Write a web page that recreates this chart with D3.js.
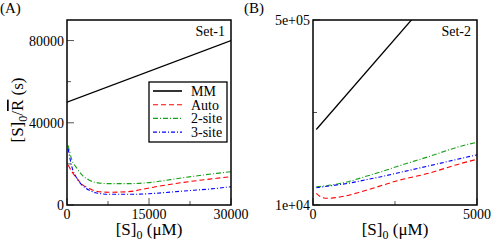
<!DOCTYPE html>
<html>
<head>
<meta charset="utf-8">
<script src="https://cdn.jsdelivr.net/npm/d3@7"></script>
<style>
  html, body { margin: 0; padding: 0; background: #fff; }
  svg text { font-family: "Liberation Serif", "DejaVu Serif", serif; fill: #000; }
</style>
</head>
<body>
<svg id="chart" width="491" height="243"></svg>
<script>
// Panel A (Set-1)
const xA = [200, 900, 1800, 2750, 4000, 5200, 7600, 11300, 15000, 21300, 27400, 30000];
const autoA = [19500, 16200, 13000, 10100, 8100, 6800, 6200, 6500, 8300, 11000, 13000, 13800];
const twoSiteA = [29000, 21900, 17900, 14600, 12200, 11000, 10400, 10400, 10900, 13300, 15400, 16200];
const threeSiteA = [27400, 18500, 13000, 9700, 7300, 6000, 5200, 5200, 5500, 6800, 8100, 8900];
const mmXA = [0, 30000];
const mmA = [50000, 80000];

// Panel B (Set-2)
const xB = [100, 560, 1070, 1580, 2080, 2540, 3520, 4530, 5000];
const twoSiteB = [58500, 63000, 71700, 85000, 98200, 111400, 137900, 166300, 176000];
const threeSiteB = [55800, 61100, 67500, 76200, 85000, 94000, 113300, 133700, 143000];
const xAutoB = [100, 300, 460, 860, 1370, 1880, 2540, 3520, 4530, 5000];
const autoB = [40900, 29300, 27700, 32000, 42600, 55800, 73600, 94000, 120500, 131000];
const mmXB = [100, 5000];
const mmB = [210000, 700000];

const legendNames = ['MM', 'Auto', '2-site', '3-site'];
const styles = [
  { color: '#000000', dash: null, width: 1.3 },
  { color: '#ff0000', dash: '5,3', width: 1.1 },
  { color: '#16a016', dash: '5,2,1,2', width: 1.1 },
  { color: '#0000ff', dash: '4,2,1,2', width: 1.1 }
];

const svg = d3.select('#chart');
const zip = (xs, ys) => xs.map((x, i) => ({ x, y: ys[i] }));

function panel(cfg) {
  const { left, right, top, bottom } = cfg.box;
  const x = d3.scaleLinear().domain(cfg.xDomain).range([left, right]);
  const y = d3.scaleLinear().domain(cfg.yDomain).range([bottom, top]);
  const g = svg.append('g');

  g.append('clipPath').attr('id', cfg.id + '-clip')
    .append('rect').attr('x', left).attr('y', top).attr('width', right - left).attr('height', bottom - top);

  // ticks (inward, bottom and left only)
  const tickLines = g.append('g').attr('stroke', '#555').attr('stroke-width', 1);
  cfg.xTicks.forEach((t) => {
    tickLines.append('line').attr('x1', x(t.v)).attr('x2', x(t.v))
      .attr('y1', bottom).attr('y2', bottom - (t.major ? 7 : 4));
  });
  cfg.yTicks.forEach((t) => {
    tickLines.append('line').attr('y1', y(t.v)).attr('y2', y(t.v))
      .attr('x1', left).attr('x2', left + (t.major ? 7 : 4));
  });

  const line = d3.line().x((d) => x(d.x)).y((d) => y(d.y)).curve(d3.curveMonotoneX);
  const lines = g.append('g').attr('clip-path', `url(#${cfg.id}-clip)`);
  cfg.series.forEach((s) => {
    lines.append('path').datum(zip(s.xs, s.ys))
      .attr('fill', 'none')
      .attr('stroke', s.style.color)
      .attr('stroke-width', s.style.width)
      .attr('stroke-dasharray', s.style.dash)
      .attr('d', line);
  });

  g.append('rect').attr('x', left).attr('y', top).attr('width', right - left).attr('height', bottom - top)
    .attr('fill', 'none').attr('stroke', '#000').attr('stroke-width', 1.5);

  cfg.xTicks.filter((t) => t.label).forEach((t) => {
    g.append('text').attr('x', x(t.v)).attr('y', bottom + 14).attr('text-anchor', 'middle')
      .attr('font-size', 14).text(t.label);
  });
  cfg.yTicks.filter((t) => t.label).forEach((t) => {
    g.append('text').attr('x', left - 3).attr('y', y(t.v) + 5).attr('text-anchor', 'end')
      .attr('font-size', 14).text(t.label);
  });

  g.append('text').attr('x', right - 6).attr('y', top + 16).attr('text-anchor', 'end')
    .attr('font-size', 14).text(cfg.set);

  const xl = g.append('text').attr('x', (left + right) / 2).attr('y', 235).attr('text-anchor', 'middle')
    .attr('font-size', 17);
  xl.append('tspan').text('[S]');
  xl.append('tspan').attr('font-size', 12).attr('dy', 4).text('0');
  xl.append('tspan').attr('dy', -4).text(' (μM)');

  g.append('text').attr('x', cfg.tagX).attr('y', 13).attr('font-size', 15).text(cfg.tag);
  return { x, y };
}

panel({
  id: 'a',
  box: { left: 67, right: 231, top: 20, bottom: 205 },
  xDomain: [0, 30000],
  yDomain: [0, 90000],
  xTicks: [
    { v: 0, major: true, label: '0' }, { v: 7500 }, { v: 15000, major: true, label: '15000' },
    { v: 22500 }, { v: 30000, major: true, label: '30000' }
  ],
  yTicks: [
    { v: 0, major: true, label: '0' }, { v: 20000 }, { v: 40000, major: true, label: '40000' },
    { v: 60000 }, { v: 80000, major: true, label: '80000' }
  ],
  series: [
    { xs: mmXA, ys: mmA, style: styles[0] },
    { xs: xA, ys: autoA, style: styles[1] },
    { xs: xA, ys: twoSiteA, style: styles[2] },
    { xs: xA, ys: threeSiteA, style: styles[3] }
  ],
  set: 'Set-1',
  tag: '(A)',
  tagX: 0
});

panel({
  id: 'b',
  box: { left: 313, right: 477, top: 20, bottom: 205 },
  xDomain: [0, 5000],
  yDomain: [10000, 500000],
  xTicks: [{ v: 0, major: true, label: '0' }, { v: 2500 }, { v: 5000, major: true, label: '5000' }],
  yTicks: [{ v: 10000, major: true, label: '1e+04' }, { v: 255000 }, { v: 500000, major: true, label: '5e+05' }],
  series: [
    { xs: mmXB, ys: mmB, style: styles[0] },
    { xs: xAutoB, ys: autoB, style: styles[1] },
    { xs: xB, ys: twoSiteB, style: styles[2] },
    { xs: xB, ys: threeSiteB, style: styles[3] }
  ],
  set: 'Set-2',
  tag: '(B)',
  tagX: 244
});

// y axis title for panel A
const yl = svg.append('text').attr('transform', 'translate(23,110) rotate(-90)')
  .attr('text-anchor', 'middle').attr('font-size', 17);
yl.append('tspan').text('[S]');
yl.append('tspan').attr('font-size', 12).attr('dy', 4).text('0');
yl.append('tspan').attr('dy', -4).text('/');
yl.append('tspan').style('text-decoration', 'overline').text('R');
yl.append('tspan').text(' (s)');

// legend
const leg = svg.append('g').attr('transform', 'translate(149,82)');
leg.append('rect').attr('width', 78).attr('height', 60).attr('fill', '#fff')
  .attr('stroke', '#000').attr('stroke-width', 1.3);
legendNames.forEach((name, i) => {
  const yy = 9 + i * 13.7;
  leg.append('line').attr('x1', 4).attr('x2', 33).attr('y1', yy).attr('y2', yy)
    .attr('stroke', styles[i].color).attr('stroke-width', i === 0 ? 1.6 : 1.1)
    .attr('stroke-dasharray', styles[i].dash);
  leg.append('text').attr('x', 42).attr('y', yy + 5).attr('font-size', 14).text(name);
});
</script>
</body>
</html>
